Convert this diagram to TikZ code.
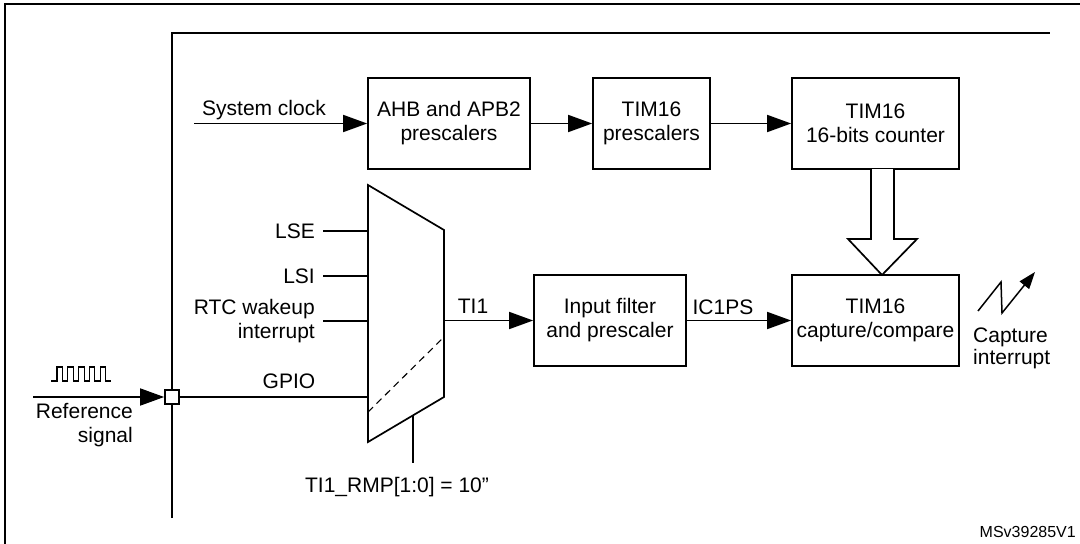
\documentclass[tikz,border=0pt]{standalone}
\usepackage{fontspec}
\setmainfont{Liberation Sans}
\usetikzlibrary{arrows.meta}
\begin{document}
\begin{tikzpicture}[x=1pt,y=-1pt,
  font=\fontsize{21}{24}\selectfont,
  blk/.style={draw,line width=1.7pt,align=center,inner sep=0pt},
  conn/.style={line width=1.7pt},
  arr/.style={conn,-{Triangle[length=24pt,width=17pt]}},
  lbl/.style={inner sep=0pt}]
\useasboundingbox (0,0) rectangle (1080,544);
% frames
\draw[line width=2.1pt] (5,544) -- (5,4) -- (1080,4);
\draw[line width=2.1pt] (172,518) -- (172,33) -- (1050,33);

% top row
\node[blk,minimum width=162pt,minimum height=91pt] (ahb) at (449,123.5) {AHB and APB2\\prescalers};
\node[blk,minimum width=117pt,minimum height=91pt] (psc) at (651.5,123.5) {TIM16\\prescalers};
\node[blk,minimum width=167pt,minimum height=91pt] (cnt) at (875.5,123.5) {TIM16\\16-bits counter};
\coordinate (sysin) at (194,123.5);
\node[lbl] (syslbl) at (264,110) {System clock};
\draw[arr] (sysin) -- (ahb.west);
\draw[arr] (ahb.east) -- (psc.west);
\draw[arr] (psc.east) -- (cnt.west);

% bottom row
\node[blk,minimum width=152pt,minimum height=91pt] (flt) at (610,320.5) {Input filter\\and prescaler};
\node[blk,minimum width=167pt,minimum height=91pt] (cap) at (875.5,320.5) {TIM16\\capture/compare};

% hollow bus arrow
\draw[line width=1.7pt,fill=white] (871,169) -- (871,239) -- (848,239) -- (882,275) -- (917,239) -- (894,239) -- (894,169);

% mux
\coordinate (mTL) at (368,185);
\coordinate (mTR) at (444,230);
\coordinate (mBR) at (444,397);
\coordinate (mBL) at (368,442);
\draw[line width=1.7pt] (mTL) -- (mTR) -- (mBR) -- (mBL) -- cycle;
\draw[line width=1.1pt,dash pattern=on 7pt off 5pt] (368,412) -- (444,337);
\coordinate (mLSE) at (368,231);
\coordinate (mLSI) at (368,276);
\coordinate (mRTC) at (368,321);
\coordinate (mGPIO) at (368,397);
\coordinate (mOut) at (444,320.5);
\coordinate (mSelTop) at (413,415);
\coordinate (mSelEnd) at (413,463);

\node[lbl,anchor=east] (lse) at (315,231) {LSE};
\node[lbl,anchor=east] (lsi) at (315,276) {LSI};
\node[lbl,anchor=east,align=right] (rtc) at (315,321) {RTC wakeup\\interrupt};
\coordinate (lseS) at (323,231);
\coordinate (lsiS) at (323,276);
\coordinate (rtcS) at (323,321);
\draw[conn] (lseS) -- (mLSE);
\draw[conn] (lsiS) -- (mLSI);
\draw[conn] (rtcS) -- (mRTC);
\draw[conn] (mSelTop) -- (mSelEnd);
\node[lbl] (sel) at (397,487) {TI1\_RMP[1:0] = 10”};

\draw[arr] (mOut) -- (flt.west);
\node[lbl] (ti1) at (473,306) {TI1};
\draw[arr] (flt.east) -- (cap.west);
\node[lbl] (ic1) at (723,307) {IC1PS};

% junction and reference signal
\node[draw,line width=1.7pt,fill=white,minimum size=14pt,inner sep=0pt] (jn) at (172,397) {};
\coordinate (refin) at (33,397);
\draw[arr] (refin) -- (jn.west);
\draw[conn] (jn.east) -- (mGPIO);
\node[lbl] (gpio) at (289,381) {GPIO};
\node[lbl,anchor=north east,align=right] (ref) at (133,403) {Reference\\signal};
\draw[line width=1.1pt] (51,381) -- (57,381)
  \foreach \k in {0,...,4} { -- ++(0,-14) -- ++(5.5,0) -- ++(0,14) -- ++(5.3,0) } ;

% capture interrupt
\coordinate (z1) at (978,311);
\coordinate (z2) at (1001,282);
\coordinate (z3) at (1002,313);
\coordinate (z4) at (1035,272);
\draw[line width=1.5pt,-{Triangle[length=17pt,width=12pt]}] (z1) -- (z2) -- (z3) -- (z4);
\node[lbl,anchor=north west,align=left,font=\fontsize{21}{22}\selectfont] (capint) at (973,328) {Capture\\interrupt};

\node[lbl,font=\fontsize{16}{18}\selectfont,anchor=east] (ms) at (1076,532) {MSv39285V1};
\end{tikzpicture}
\end{document}
